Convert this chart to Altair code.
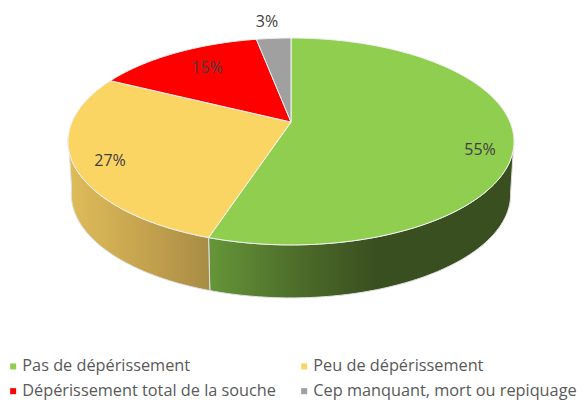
import math
import altair as alt
import pandas as pd

categories = ["Pas de dépérissement", "Peu de dépérissement",
              "Dépérissement total de la souche", "Cep manquant, mort ou repiquage"]
shares = [55, 27.4, 14.6, 3]
labels = ["55%", "27%", "15%", "3%"]
colors = ["#90CE50", "#FBD563", "#FF0000", "#A0A0A0"]

# annotation anchors on the page
label_x = [480, 110, 207, 267]
label_y = [150, 161, 68, 22]

# view of the tilted disc
W, H = 570, 394
APEX = (291, 122)
K, A, C = 219, 99.8, 0.188
DEPTH, SHRINK = 53, 0.985


def project(turn, bottom=False):
    t = math.radians(turn)
    u, v = math.sin(t), math.cos(t)
    d = 1 + C * v
    x, y = K * u / d, -A * v / d
    if bottom:
        return APEX[0] + SHRINK * x, APEX[1] + y + DEPTH
    return APEX[0] + x, APEX[1] + y


def arc(a, b, bottom=False):
    n = max(2, int(abs(b - a)) + 1)
    return [project(a + (b - a) * i / (n - 1), bottom) for i in range(n)]


edges = [0]
for s in shares:
    edges.append(edges[-1] + s * 3.6)

top_rows = []
for k, cat in enumerate(categories):
    pts = [APEX] + arc(edges[k], edges[k + 1]) + [APEX]
    for i, (x, y) in enumerate(pts):
        top_rows.append({"cat": cat, "i": i, "x": x, "y": y})
top = pd.DataFrame(top_rows)


def wall(a, b):
    pts = arc(a, b) + arc(b, a, True)
    pts.append(pts[0])
    return pd.DataFrame([{"i": i, "x": x, "y": y} for i, (x, y) in enumerate(pts)])


x_enc = alt.X("x:Q", axis=None, scale=alt.Scale(domain=[8, 8 + W], nice=False, zero=False))
y_enc = alt.Y("y:Q", axis=None, scale=alt.Scale(domain=[8 + H, 8], nice=False, zero=False))
order = alt.Order("i:Q")

green_grad = alt.Gradient(gradient="linear", x1=0, x2=1, y1=0, y2=0, stops=[
    alt.GradientStop(color="#669639", offset=0),
    alt.GradientStop(color="#4c6b29", offset=0.3),
    alt.GradientStop(color="#3a4f20", offset=0.55),
    alt.GradientStop(color="#3a4f20", offset=1)])
yellow_grad = alt.Gradient(gradient="linear", x1=0, x2=1, y1=0, y2=0, stops=[
    alt.GradientStop(color="#dfbd5a", offset=0),
    alt.GradientStop(color="#c4a24e", offset=0.55),
    alt.GradientStop(color="#a88c45", offset=1)])

wall_green = alt.Chart(wall(100, edges[1])).mark_line(
    fill=green_grad, stroke="#e0e0e0", strokeWidth=1).encode(x=x_enc, y=y_enc, order=order)
wall_yellow = alt.Chart(wall(edges[1], 262)).mark_line(
    fill=yellow_grad, stroke="#e0e0e0", strokeWidth=1).encode(x=x_enc, y=y_enc, order=order)

slices = alt.Chart(top).mark_line(stroke="#f2f2f2", strokeWidth=1).encode(
    x=x_enc, y=y_enc, order=order,
    fill=alt.Fill("cat:N", sort=categories,
                  scale=alt.Scale(domain=categories, range=colors),
                  legend=alt.Legend(
                      orient="none", legendX=-3, legendY=350, columns=2, title=None,
                      direction="horizontal",
                      symbolType="square", symbolSize=36, symbolStrokeWidth=0,
                      labelFont="Open Sans", labelFontSize=16.3, labelColor="#595959",
                      labelOffset=1, columnPadding=20, rowPadding=8, labelLimit=300)))

text = alt.Chart(pd.DataFrame({"x": label_x, "y": label_y, "t": labels})).mark_text(
    font="Open Sans", fontSize=16, color="#404040").encode(x=x_enc, y=y_enc, text="t:N")

chart = (wall_green + wall_yellow + slices + text).properties(
    width=W, height=H, padding=0,
    autosize=alt.AutoSizeParams(type="none")
).configure_view(stroke=None)

chart.save("out.html", embed_options={"renderer": "svg", "actions": False})
